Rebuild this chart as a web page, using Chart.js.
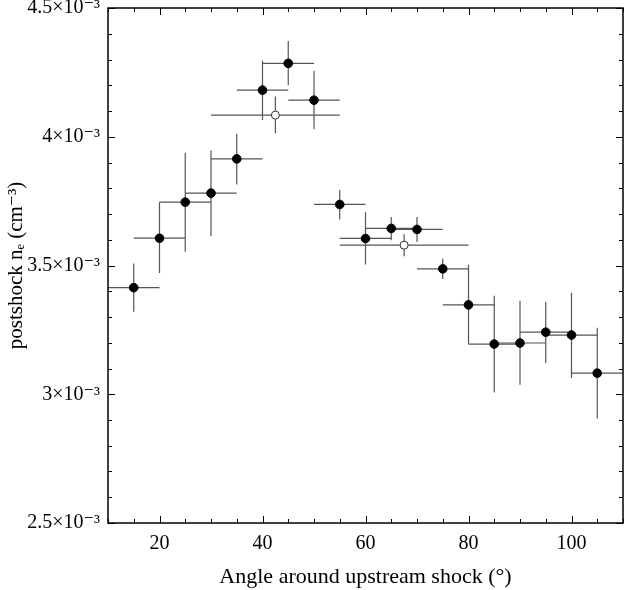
<!DOCTYPE html>
<html>
<head>
<meta charset="utf-8">
<script src="https://cdn.jsdelivr.net/npm/chart.js@4"></script>
<style>
  html, body { margin: 0; padding: 0; background: #fff; }
  #wrap { width: 629px; height: 590px; }
</style>
</head>
<body>
<div id="wrap"><canvas id="myChart"></canvas></div>
<script>
// angle bins (deg) and density in units of 1e-3 cm^-3
var angles = [15,20,25,30,35,40,45,50,55,60,65,70,75,80,85,90,95,100,105];
var dens   = [3.414,3.606,3.746,3.781,3.914,4.181,4.285,4.142,3.737,3.605,3.644,3.640,3.487,3.347,3.195,3.199,3.241,3.230,3.082];
var densLo = [3.320,3.471,3.553,3.614,3.815,4.065,4.200,4.029,3.679,3.504,3.598,3.591,3.448,3.196,3.007,3.037,3.121,3.063,2.906];
var densHi = [3.508,3.746,3.938,3.947,4.012,4.295,4.372,4.256,3.793,3.707,3.688,3.688,3.526,3.503,3.383,3.363,3.359,3.394,3.258];
var angLo  = [10,15,20,25,30,35,40,45,50,55,60,65,70,75,80,85,90,95,100];
var angHi  = [20,25,30,35,40,45,50,55,60,65,70,75,80,85,90,95,100,105,110];

// wide bins (open circles)
var wideAngles = [42.5, 67.5];
var wideDens   = [4.084, 3.579];
var wideDensLo = [4.014, 3.536];
var wideDensHi = [4.156, 3.621];
var wideAngLo  = [30, 55];
var wideAngHi  = [55, 80];

var xTicks = [20,40,60,80,100];
var yTicks = [2.5,3,3.5,4,4.5];

var serif = "'Liberation Serif', 'DejaVu Serif', serif";

function pts(xs, ys) {
  return xs.map(function(x, i) { return {x: x, y: ys[i]}; });
}

var errorBars = {
  id: 'errorBars',
  beforeDatasetsDraw: function(chart) {
    var ctx = chart.ctx, xs = chart.scales.x, ys = chart.scales.y, a = chart.chartArea;
    ctx.save();
    ctx.beginPath();
    ctx.rect(a.left, a.top, a.right - a.left, a.bottom - a.top);
    ctx.clip();
    ctx.strokeStyle = '#555';
    ctx.lineWidth = 1.2;
    function draw(cx, cy, lo, hi, xl, xh) {
      for (var i = 0; i < cx.length; i++) {
        var px = xs.getPixelForValue(cx[i]), py = ys.getPixelForValue(cy[i]);
        ctx.beginPath();
        ctx.moveTo(px, ys.getPixelForValue(lo[i]));
        ctx.lineTo(px, ys.getPixelForValue(hi[i]));
        ctx.moveTo(xs.getPixelForValue(xl[i]), py);
        ctx.lineTo(xs.getPixelForValue(xh[i]), py);
        ctx.stroke();
      }
    }
    draw(angles, dens, densLo, densHi, angLo, angHi);
    draw(wideAngles, wideDens, wideDensLo, wideDensHi, wideAngLo, wideAngHi);
    ctx.restore();
  }
};

var frameTicks = {
  id: 'frameTicks',
  afterDraw: function(chart) {
    var ctx = chart.ctx, xs = chart.scales.x, ys = chart.scales.y, a = chart.chartArea;
    ctx.save();
    ctx.strokeStyle = '#000';
    ctx.lineWidth = 1;
    var v, p, len;
    ctx.beginPath();
    for (v = 10; v <= 110; v += 5) {
      p = Math.round(xs.getPixelForValue(v)) + 0.5;
      len = (v % 20 === 0) ? 7 : 4;
      ctx.moveTo(p, a.bottom); ctx.lineTo(p, a.bottom - len);
      ctx.moveTo(p, a.top); ctx.lineTo(p, a.top + len);
    }
    for (var k = 25; k <= 45; k++) {
      v = k / 10;
      p = Math.round(ys.getPixelForValue(v)) + 0.5;
      len = (k % 5 === 0) ? 7 : 4;
      ctx.moveTo(a.left, p); ctx.lineTo(a.left + len, p);
      ctx.moveTo(a.right, p); ctx.lineTo(a.right - len, p);
    }
    ctx.stroke();
    ctx.lineWidth = 1.5;
    ctx.strokeRect(a.left, a.top, a.right - a.left, a.bottom - a.top);
    ctx.restore();
  }
};

var ctx = document.getElementById('myChart');
var myChart = new Chart(ctx, {
  type: 'scatter',
  data: {
    datasets: [
      {
        data: pts(angles, dens),
        pointRadius: 4.3,
        pointBackgroundColor: '#000',
        pointBorderColor: '#000',
        pointBorderWidth: 1
      },
      {
        data: pts(wideAngles, wideDens),
        pointRadius: 4,
        pointBackgroundColor: '#fff',
        pointBorderColor: '#333',
        pointBorderWidth: 1
      }
    ]
  },
  options: {
    responsive: true,
    maintainAspectRatio: false,
    animation: false,
    events: [],
    layout: { padding: { left: 0, right: 6, top: 8, bottom: 0 } },
    plugins: { legend: { display: false }, tooltip: { enabled: false } },
    scales: {
      x: {
        type: 'linear',
        min: 10, max: 110,
        grid: { display: false, drawTicks: false },
        border: { display: false },
        afterBuildTicks: function(s) { s.ticks = xTicks.map(function(v) { return {value: v}; }); },
        afterFit: function(s) { s.height = 67; s.paddingLeft = 0; s.paddingRight = 0; },
        ticks: {
          padding: 9,
          color: '#000',
          font: { family: serif, size: 20 },
          maxRotation: 0
        },
        title: {
          display: true,
          text: 'Angle around upstream shock (°)',
          color: '#000',
          font: { family: serif, size: 22 },
          padding: { top: 0, bottom: 0 }
        }
      },
      y: {
        type: 'linear',
        min: 2.5, max: 4.5,
        grid: { display: false, drawTicks: false },
        border: { display: false },
        afterBuildTicks: function(s) { s.ticks = yTicks.map(function(v) { return {value: v}; }); },
        afterFit: function(s) { s.width = 108; s.paddingTop = 0; s.paddingBottom = 0; },
        ticks: {
          padding: 8,
          color: '#000',
          font: { family: serif, size: 20 },
          callback: function(v) { return v + '×10⁻³'; }
        },
        title: {
          display: true,
          text: 'postshock nₑ (cm⁻³)',
          color: '#000',
          font: { family: serif, size: 21 },
          padding: { top: 4, bottom: 0 }
        }
      }
    }
  },
  plugins: [errorBars, frameTicks]
});
</script>
</body>
</html>
